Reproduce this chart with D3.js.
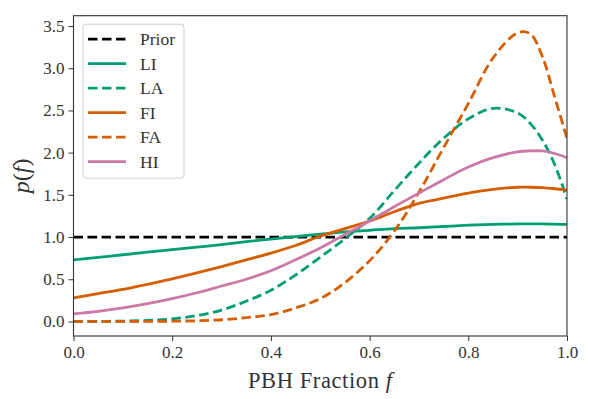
<!DOCTYPE html>
<html>
<head>
<meta charset="utf-8">
<script src="https://cdn.jsdelivr.net/npm/d3@7"></script>
<style>
  body { margin: 0; background: #fff; }
  svg { display: block; }
  svg text { font-family: "Liberation Serif", "Times New Roman", Times, serif; fill: #333; }
</style>
</head>
<body>
<svg id="chart" width="589" height="399"></svg>
<script>
// PBH fraction grid
var fGrid = [0, 0.05, 0.1, 0.15, 0.2, 0.25, 0.3, 0.35, 0.4, 0.45, 0.5, 0.55, 0.6, 0.65, 0.7, 0.75, 0.8, 0.85, 0.9, 0.925, 0.95, 0.975, 1.0];

var priorVals = [1, 1, 1, 1, 1, 1, 1, 1, 1, 1, 1, 1, 1, 1, 1, 1, 1, 1, 1, 1, 1, 1, 1];
var liVals = [0.73, 0.76, 0.79, 0.82, 0.85, 0.88, 0.91, 0.945, 0.975, 1.005, 1.035, 1.06, 1.08, 1.10, 1.11, 1.125, 1.14, 1.15, 1.155, 1.155, 1.155, 1.152, 1.15];
var laVals = [0, 0.001, 0.004, 0.012, 0.03, 0.07, 0.135, 0.24, 0.37, 0.55, 0.76, 0.98, 1.22, 1.55, 1.875, 2.17, 2.40, 2.525, 2.47, 2.35, 2.15, 1.86, 1.45];
var fiVals = [0.28, 0.33, 0.38, 0.44, 0.505, 0.575, 0.65, 0.73, 0.81, 0.90, 1.01, 1.10, 1.19, 1.30, 1.40, 1.46, 1.52, 1.565, 1.59, 1.59, 1.585, 1.572, 1.555];
var faVals = [0, 0, 0.0005, 0.001, 0.003, 0.008, 0.02, 0.045, 0.08, 0.16, 0.27, 0.46, 0.72, 1.07, 1.53, 2.06, 2.58, 3.12, 3.42, 3.41, 3.14, 2.66, 2.17];
var hiVals = [0.09, 0.12, 0.16, 0.21, 0.27, 0.34, 0.42, 0.50, 0.60, 0.73, 0.87, 1.03, 1.19, 1.36, 1.52, 1.68, 1.83, 1.94, 2.01, 2.02, 2.02, 1.99, 1.94];

var seriesNames = ["Prior", "LI", "LA", "FI", "FA", "HI"];
var seriesVals = [priorVals, liVals, laVals, fiVals, faVals, hiVals];
var seriesColors = ["#000000", "#009e73", "#009e73", "#d55e00", "#d55e00", "#cc79a7"];
var seriesDashed = [true, false, true, false, true, false];

var xTicks = [0, 0.2, 0.4, 0.6, 0.8, 1.0];
var yTicks = [0, 0.5, 1.0, 1.5, 2.0, 2.5, 3.0, 3.5];

var serif = '"Liberation Serif", "Times New Roman", Times, serif';

var svg = d3.select("#chart"),
    margin = { top: 15.7, right: 22, bottom: 63, left: 73.5 },
    width = 589 - margin.left - margin.right,
    height = 399 - margin.top - margin.bottom;

var xScale = d3.scaleLinear().domain([0, 1]).range([0, width]);
var yScale = d3.scaleLinear().domain([-0.1725, 3.6225]).range([height, 0]);

var g = svg.append("g")
    .attr("transform", "translate(" + margin.left + "," + margin.top + ")");

g.append("clipPath").attr("id", "plotclip")
    .append("rect").attr("width", width).attr("height", height);

// axes
var xAxis = g.append("g")
    .attr("transform", "translate(0," + height + ")")
    .call(d3.axisBottom(xScale).tickValues(xTicks).tickFormat(d3.format(".1f")).tickSize(5).tickPadding(5));
var yAxis = g.append("g")
    .call(d3.axisLeft(yScale).tickValues(yTicks).tickFormat(d3.format(".1f")).tickSize(5).tickPadding(4));

[xAxis, yAxis].forEach(function (a) {
    a.attr("font-family", serif);
    a.select(".domain").remove();
    a.selectAll("line").attr("stroke", "#333").attr("stroke-width", 1);
    a.selectAll("text")
        .style("font-family", serif)
        .style("font-size", "17px")
        .attr("fill", "#333");
});

// curves
var line = d3.line()
    .x(function (d) { return xScale(d[0]); })
    .y(function (d) { return yScale(d[1]); })
    .curve(d3.curveCatmullRom.alpha(0.5));

seriesNames.forEach(function (name, i) {
    var pts = fGrid.map(function (f, j) { return [f, seriesVals[i][j]]; });
    g.append("path")
        .datum(pts)
        .attr("clip-path", "url(#plotclip)")
        .attr("fill", "none")
        .attr("stroke", seriesColors[i])
        .attr("stroke-width", 2.8)
        .attr("stroke-dasharray", seriesDashed[i] ? "9.5,4.5" : null)
        .attr("d", line);
});

// frame
g.append("rect")
    .attr("width", width)
    .attr("height", height)
    .attr("fill", "none")
    .attr("stroke", "#333")
    .attr("stroke-width", 1.1);

// axis labels
g.append("text")
    .attr("x", width / 2)
    .attr("y", height + 52)
    .attr("text-anchor", "middle")
    .style("font-family", serif)
    .style("font-size", "22.5px")
    .style("letter-spacing", "0.6px")
    .attr("fill", "#222")
    .html('PBH Fraction <tspan font-style="italic">f</tspan>');

g.append("text")
    .attr("transform", "translate(" + (-45) + "," + (height / 2) + ") rotate(-90)")
    .attr("text-anchor", "middle")
    .style("font-family", serif)
    .style("font-size", "24px")
    .attr("fill", "#222")
    .html('<tspan font-style="italic">p</tspan>(<tspan font-style="italic">f</tspan>)');

// legend
var legend = g.append("g").attr("transform", "translate(9.5,8.5)");
legend.append("rect")
    .attr("width", 101)
    .attr("height", 154)
    .attr("rx", 3)
    .attr("fill", "#fff")
    .attr("fill-opacity", 0.8)
    .attr("stroke", "#d0d0d0")
    .attr("stroke-width", 1);

var rows = legend.selectAll(".row")
    .data(seriesNames)
    .enter().append("g")
    .attr("class", "row")
    .attr("transform", function (d, i) { return "translate(0," + (15 + i * 24.5) + ")"; });

rows.append("line")
    .attr("x1", 5).attr("x2", 43)
    .attr("stroke", function (d, i) { return seriesColors[i]; })
    .attr("stroke-width", 2.8)
    .attr("stroke-dasharray", function (d, i) { return seriesDashed[i] ? "9.5,4.5" : null; });

rows.append("text")
    .attr("x", 57)
    .attr("dy", "0.35em")
    .style("font-family", serif)
    .style("font-size", "17.5px")
    .attr("fill", "#222")
    .text(function (d) { return d; });
</script>
</body>
</html>
